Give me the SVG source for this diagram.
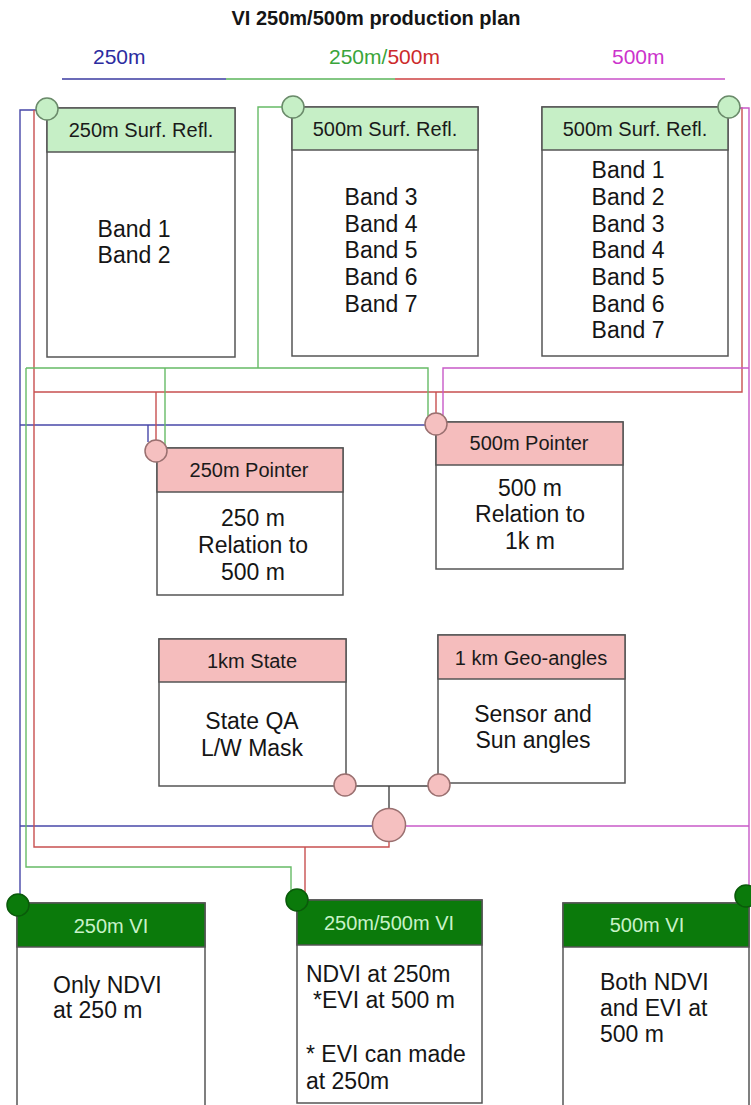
<svg xmlns="http://www.w3.org/2000/svg" width="751" height="1105" viewBox="0 0 751 1105">
<style>
text{font-family:"Liberation Sans",Arial,sans-serif;fill:#151515}
.title{font-size:20px;font-weight:bold;text-anchor:middle}
.leg{font-size:21px}
.hd{font-size:20px;text-anchor:middle;fill:#1a1a1a}
.hdw{font-size:20px;text-anchor:middle;fill:#c8f2c8}
.bd{font-size:23px;text-anchor:middle}
.bl{font-size:23px}
.box{fill:#fff;stroke:#555;stroke-width:1.5}
.hg{fill:#c6efc6;stroke:#555;stroke-width:1.5}
.hp{fill:#f5bdbd;stroke:#555;stroke-width:1.5}
.hd2{fill:#0b7a0b;stroke:#555;stroke-width:1.5}
.cg{fill:#c6efc6;stroke:#6a8a6a;stroke-width:1.5}
.cp{fill:#f5c0c0;stroke:#9a7070;stroke-width:1.5}
.cd{fill:#0b7a0b;stroke:#0a5a0a;stroke-width:1.5}
.ln{fill:none;stroke-width:1.4}
.b{stroke:#4747a8}.g{stroke:#66bb66}.r{stroke:#c85050}.m{stroke:#c85ac8}.k{stroke:#444}
</style>
<text class="title" x="376" y="25">VI 250m/500m production plan</text>
<g id="legend">
<text class="leg" x="93" y="64" fill="#2c2ca0" style="fill:#2c2ca0">250m</text>
<text class="leg" x="329" y="64"><tspan style="fill:#3aa53a">250m/</tspan><tspan style="fill:#cc2a2a">500m</tspan></text>
<text class="leg" x="612" y="64" style="fill:#cc33cc">500m</text>
<line x1="62" y1="79" x2="226" y2="79" stroke="#3a3aa0" stroke-width="1.6"/>
<line x1="226" y1="79" x2="395" y2="79" stroke="#5ab55a" stroke-width="1.6"/>
<line x1="395" y1="79" x2="560" y2="79" stroke="#cc4040" stroke-width="1.6"/>
<line x1="560" y1="79" x2="725" y2="79" stroke="#c850c8" stroke-width="1.6"/>
</g>
<g id="connectors">
<path class="ln b" d="M37 110 H20 V894"/>
<path class="ln b" d="M20 425 H425"/>
<path class="ln b" d="M148 425 V442"/>
<path class="ln b" d="M20 826 H373"/>
<path class="ln r" d="M34 110 V847 H389 V841"/>
<path class="ln r" d="M34 392 H742 V108 H740"/>
<path class="ln r" d="M156 392 V440"/>
<path class="ln r" d="M436 392 V413"/>
<path class="ln r" d="M305 847 V892"/>
<path class="ln g" d="M282 107 H258 V368"/>
<path class="ln g" d="M26 368 H428 V416"/>
<path class="ln g" d="M165 368 V445"/>
<path class="ln g" d="M26 368 V867 H291 V891"/>
<path class="ln m" d="M740 108 H749 V886"/>
<path class="ln m" d="M749 368 H443 V415"/>
<path class="ln m" d="M405 826 H749"/>
<path class="ln k" d="M356 786 H428"/>
<path class="ln k" d="M389 786 V809"/>
</g>
<g id="surf250">
<rect class="box" x="47" y="108" width="188" height="249"/>
<rect class="hg" x="47" y="108" width="188" height="44"/>
<text class="hd" x="141" y="137">250m Surf. Refl.</text>
<text class="bd" x="134" y="237">Band 1</text>
<text class="bd" x="134" y="263">Band 2</text>
<circle class="cg" cx="47" cy="109" r="11"/>
</g>
<g id="surf500a">
<rect class="box" x="292" y="107" width="186" height="249"/>
<rect class="hg" x="292" y="107" width="186" height="43"/>
<text class="hd" x="385" y="136">500m Surf. Refl.</text>
<text class="bd" x="381" y="205">Band 3</text>
<text class="bd" x="381" y="232">Band 4</text>
<text class="bd" x="381" y="258">Band 5</text>
<text class="bd" x="381" y="285">Band 6</text>
<text class="bd" x="381" y="312">Band 7</text>
<circle class="cg" cx="293" cy="107" r="11"/>
</g>
<g id="surf500b">
<rect class="box" x="542" y="107" width="186" height="249"/>
<rect class="hg" x="542" y="107" width="186" height="43"/>
<text class="hd" x="635" y="136">500m Surf. Refl.</text>
<text class="bd" x="628" y="178">Band 1</text>
<text class="bd" x="628" y="205">Band 2</text>
<text class="bd" x="628" y="232">Band 3</text>
<text class="bd" x="628" y="258">Band 4</text>
<text class="bd" x="628" y="285">Band 5</text>
<text class="bd" x="628" y="312">Band 6</text>
<text class="bd" x="628" y="338">Band 7</text>
<circle class="cg" cx="729" cy="107" r="11"/>
</g>
<g id="ptr250">
<rect class="box" x="157" y="448" width="186" height="147"/>
<rect class="hp" x="157" y="448" width="186" height="44"/>
<text class="hd" x="249" y="477">250m Pointer</text>
<text class="bd" x="253" y="526">250 m</text>
<text class="bd" x="253" y="553">Relation to</text>
<text class="bd" x="253" y="580">500 m</text>
<circle class="cp" cx="156" cy="451" r="11"/>
</g>
<g id="ptr500">
<rect class="box" x="436" y="422" width="187" height="147"/>
<rect class="hp" x="436" y="422" width="187" height="43"/>
<text class="hd" x="529" y="450">500m Pointer</text>
<text class="bd" x="530" y="496">500 m</text>
<text class="bd" x="530" y="522">Relation to</text>
<text class="bd" x="530" y="549">1k m</text>
<circle class="cp" cx="436" cy="424" r="11"/>
</g>
<g id="state1km">
<rect class="box" x="159" y="639" width="187" height="147"/>
<rect class="hp" x="159" y="639" width="187" height="43"/>
<text class="hd" x="252" y="668">1km State</text>
<text class="bd" x="252" y="729">State QA</text>
<text class="bd" x="252" y="756">L/W Mask</text>
<circle class="cp" cx="345" cy="785" r="11"/>
</g>
<g id="geo1km">
<rect class="box" x="438" y="635" width="187" height="148"/>
<rect class="hp" x="438" y="635" width="187" height="44"/>
<text class="hd" x="531" y="665">1 km Geo-angles</text>
<text class="bd" x="533" y="722">Sensor and</text>
<text class="bd" x="533" y="748">Sun angles</text>
<circle class="cp" cx="439" cy="785" r="11"/>
</g>
<g id="junction">
<circle class="cp" cx="389" cy="825" r="16.5"/>
</g>
<g id="vi250">
<rect class="box" x="17" y="903" width="188" height="210"/>
<rect class="hd2" x="17" y="903" width="188" height="44"/>
<text class="hdw" x="111" y="933">250m VI</text>
<text class="bl" x="53" y="993">Only NDVI</text>
<text class="bl" x="53" y="1018">at 250 m</text>
<circle class="cd" cx="18" cy="905" r="11"/>
</g>
<g id="vi250500">
<rect class="box" x="297" y="900" width="185" height="203"/>
<rect class="hd2" x="297" y="900" width="185" height="45"/>
<text class="hdw" x="389" y="930">250m/500m VI</text>
<text class="bl" x="306" y="982">NDVI at 250m</text>
<text class="bl" x="313" y="1008">*EVI at 500 m</text>
<text class="bl" x="306" y="1062">* EVI can made</text>
<text class="bl" x="306" y="1089">at 250m</text>
<circle class="cd" cx="297" cy="900" r="11"/>
</g>
<g id="vi500">
<rect class="box" x="563" y="903" width="186" height="210"/>
<rect class="hd2" x="563" y="903" width="186" height="44"/>
<text class="hdw" x="647" y="932">500m VI</text>
<text class="bl" x="600" y="990">Both NDVI</text>
<text class="bl" x="600" y="1016">and EVI at</text>
<text class="bl" x="600" y="1042">500 m</text>
<circle class="cd" cx="746" cy="896" r="11"/>
</g>
</svg>
